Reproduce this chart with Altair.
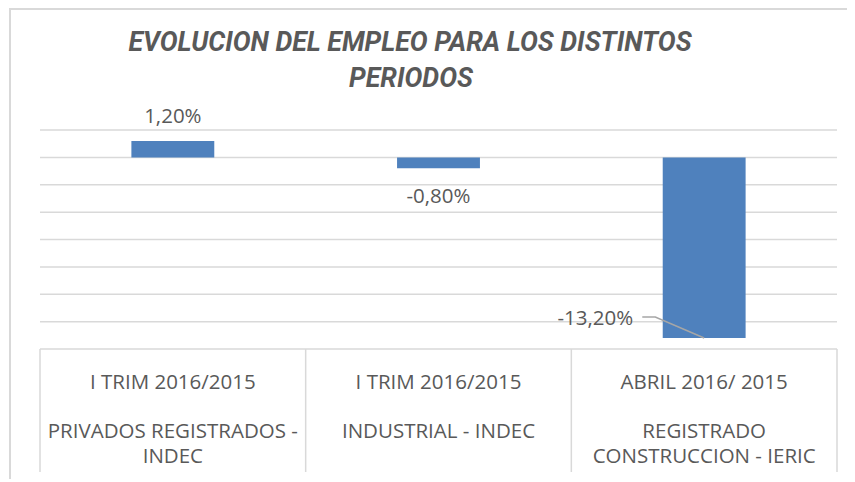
import altair as alt
import pandas as pd

# ---- data ----
periods = ["I TRIM 2016/2015", "I TRIM 2016/2015", "ABRIL 2016/ 2015"]
names = ["PRIVADOS REGISTRADOS -\nINDEC", "INDUSTRIAL - INDEC", "REGISTRADO\nCONSTRUCCION - IERIC"]
values = [1.2, -0.8, -13.2]
labels = ["1,20%", "-0,80%", "-13,20%"]
grid_values = [2, 0, -2, -4, -6, -8, -10, -12, -14]

TITLE = ["EVOLUCION DEL EMPLEO PARA LOS DISTINTOS", "PERIODOS"]
BAR = "#4F81BD"
GRID = "#D9D9D9"
TXT = "#595959"
LEAD = "#A6A6A6"
FONT = "Open Sans"
TFONT = "Roboto"

W, H = 797, 219

df = pd.DataFrame({
    "idx": list(range(len(values))),
    "value": values,
    "label": labels,
    "period": periods,
    "name": names,
})
bounds = pd.DataFrame({"b": [i - 0.5 for i in range(len(values) + 1)]})
grid_df = pd.DataFrame({"g": grid_values})

xs = alt.Scale(domain=[-0.5, len(values) - 0.5], nice=False, zero=False)
ys = alt.Scale(domain=[min(grid_values), max(grid_values)], nice=False, zero=False)

base = alt.Chart(df)

grid = alt.Chart(grid_df).mark_rule(color=GRID, strokeWidth=1.5).encode(
    y=alt.Y("g:Q", scale=ys, axis=None), x=alt.value(0), x2=alt.value(W)
)

bars = base.transform_calculate(
    x1="datum.idx - 0.156", x2="datum.idx + 0.156", zero="0"
).mark_bar(color=BAR).encode(
    x=alt.X("x1:Q", scale=xs, axis=None),
    x2="x2:Q",
    y=alt.Y("value:Q", scale=ys, axis=None),
    y2="zero:Q",
)


def label_layer(i, dx, dy, align):
    return base.transform_filter(f"datum.idx == {i}").mark_text(
        dx=dx, dy=dy, align=align, baseline="middle", font=FONT, fontSize=20.5, color=TXT
    ).encode(x=alt.X("idx:Q", scale=xs), y=alt.Y("value:Q", scale=ys), text="label:N")


lab1 = label_layer(0, 0, -24, "center")
lab2 = label_layer(1, 0, 28.5, "center")
lab3 = label_layer(2, -71, -19, "right")

# leader line for the moved -13,20% label (offsets relative to bar centre/bottom)
leader = base.transform_filter("datum.idx == 2").transform_calculate(
    pts="[0, 1, 2]"
).transform_flatten(["pts"]).transform_calculate(
    lx="datum.idx + (datum.pts == 0 ? -0.233 : datum.pts == 1 ? -0.184 : 0)",
    ly="datum.pts == 2 ? datum.value : datum.value + 1.53",
).mark_line(color=LEAD, strokeWidth=1.5).encode(
    x=alt.X("lx:Q", scale=xs), y=alt.Y("ly:Q", scale=ys), order="pts:Q"
)

seps = alt.Chart(bounds).mark_rule(color=GRID, strokeWidth=1.5).encode(
    x=alt.X("b:Q", scale=xs), y=alt.value(H), y2=alt.value(H + 123)
)

period_txt = base.mark_text(baseline="alphabetic", font=FONT, fontSize=20.5, color=TXT).encode(
    x=alt.X("idx:Q", scale=xs), y=alt.value(259), text="period:N"
)
name_txt = base.transform_calculate(lines="split(datum.name, '\\n')").mark_text(
    baseline="alphabetic", font=FONT, fontSize=20.5, color=TXT, lineHeight=25
).encode(x=alt.X("idx:Q", scale=xs), y=alt.value(308), text="lines:N")

one = alt.Chart(pd.DataFrame({"a": [0]}))
border_l = one.mark_rule(color=GRID, strokeWidth=2).encode(
    x=alt.value(-30), y=alt.value(-122), y2=alt.value(H + 140))
border_t = one.mark_rule(color=GRID, strokeWidth=2).encode(
    x=alt.value(-30), x2=alt.value(W + 20), y=alt.value(-121))

title_style = dict(font=TFONT, fontSize=26.7, fontWeight="bold", fontStyle="italic",
                   color=TXT, align="center", baseline="alphabetic")
title1 = one.mark_text(**title_style).encode(
    x=alt.value(370), y=alt.value(-79), text=alt.value(TITLE[0]))
title2 = one.mark_text(**title_style).encode(
    x=alt.value(371), y=alt.value(-43), text=alt.value(TITLE[1]))

chart = alt.layer(
    grid, bars, leader, lab1, lab2, lab3, seps, period_txt, name_txt,
    border_l, border_t, title1, title2
).properties(
    width=W,
    height=H,
    autosize="none",
    padding={"left": 32, "top": 122, "right": 10, "bottom": 130},
).configure_view(stroke=None)

chart.save("out.html", embed_options={"renderer": "svg", "actions": False})
